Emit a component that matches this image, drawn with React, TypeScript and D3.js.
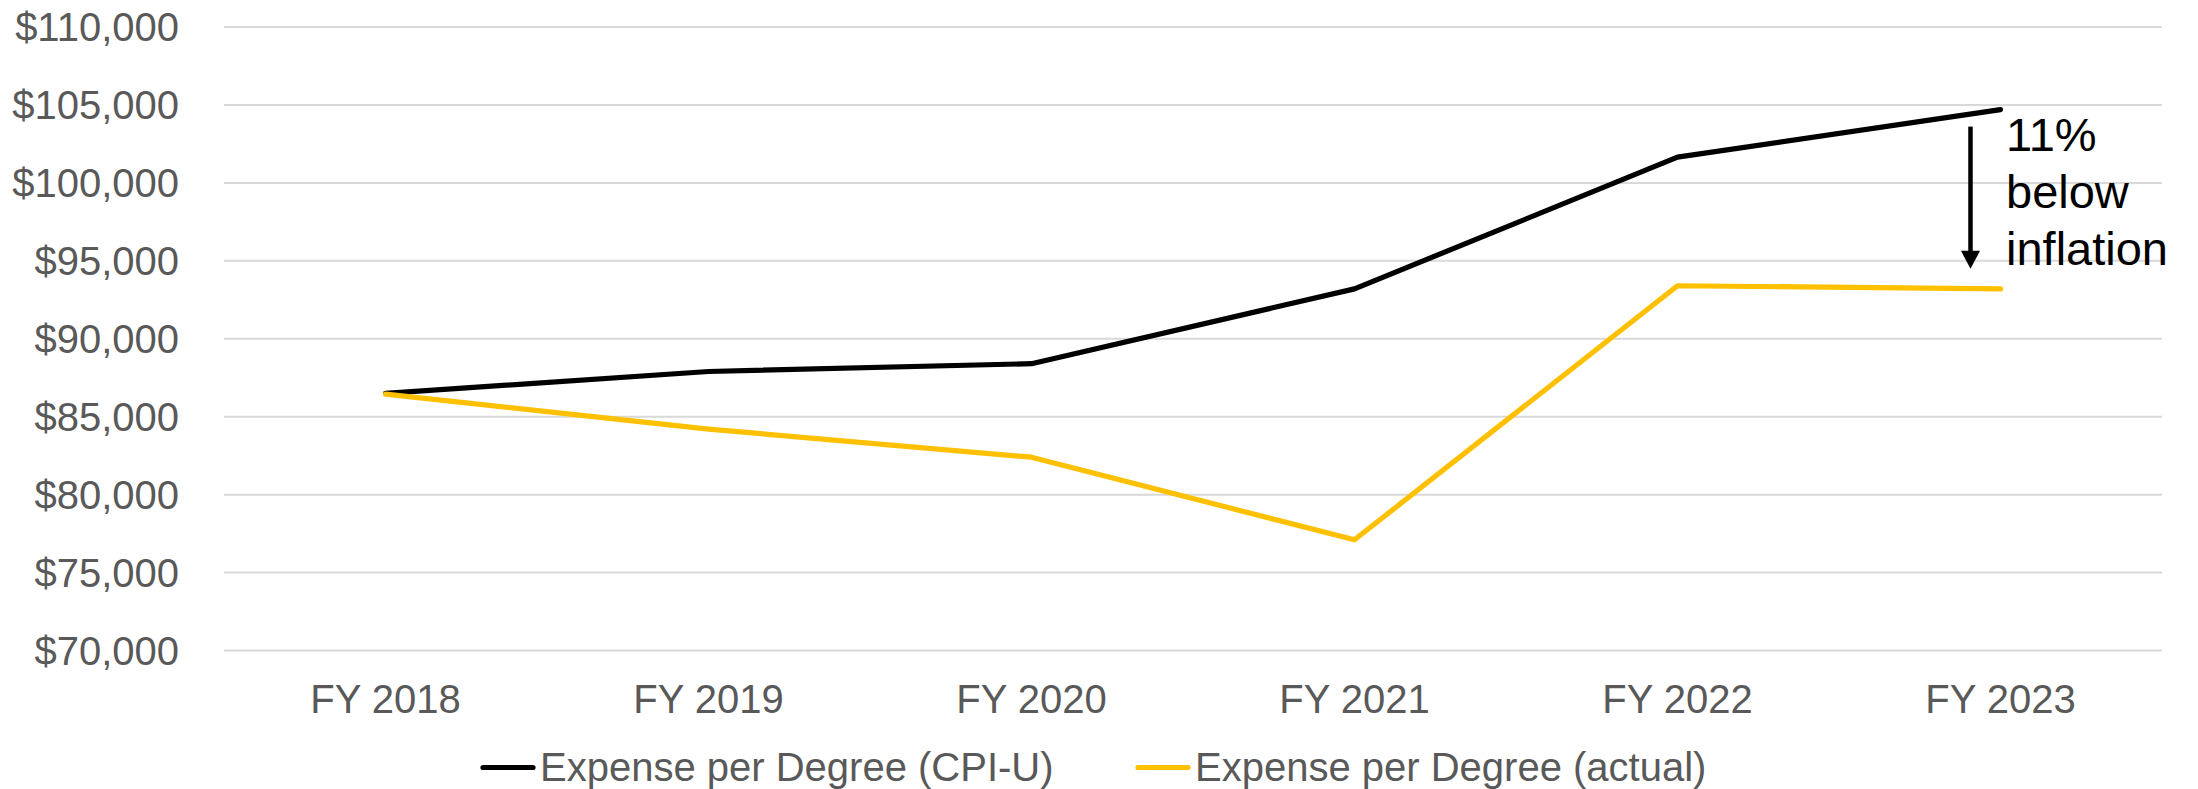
import * as d3 from "d3";

// ── Data ──────────────────────────────────────────────────
const categories = ["FY 2018", "FY 2019", "FY 2020", "FY 2021", "FY 2022", "FY 2023"];
const cpiValues = [86500, 87900, 88400, 93200, 101650, 104700];
const actualValues = [86450, 84200, 82400, 77100, 93400, 93200];
const yTicks = [70000, 75000, 80000, 85000, 90000, 95000, 100000, 105000, 110000];
const seriesNames = ["Expense per Degree (CPI-U)", "Expense per Degree (actual)"];
const annotationLines = ["11%", "below", "inflation"];

// ── Layout ────────────────────────────────────────────────
const W = 2198;
const H = 789;
const plot = { left: 224, right: 2162, top: 27, bottom: 650.5 };

const FONT = "Arial, 'Liberation Sans', sans-serif";
const GREY = "#595959";
const COLORS = ["#000000", "#FFC000"];

const x = d3.scalePoint<string>()
  .domain(categories)
  .range([plot.left, plot.right])
  .padding(0.5);

const y = d3.scaleLinear()
  .domain([70000, 110000])
  .range([plot.bottom, plot.top]);

const line = d3.line<number>()
  .x((_, i) => x(categories[i]) as number)
  .y(d => y(d));

const fmt = (v: number) => "$" + d3.format(",")(v);

export default function App() {
  const series = [cpiValues, actualValues];
  const last = categories.length - 1;
  const arrowX = (x(categories[last]) as number) - 30;
  const arrowTop = y(cpiValues[last]) + 17;
  const arrowTip = y(actualValues[last]) - 20;

  // legend layout
  const legendY = 767.5;
  const legendItems = [
    { x0: 481, textX: 540 },
    { x0: 1136, textX: 1195 },
  ];

  return (
    <svg width={W} height={H} viewBox={`0 0 ${W} ${H}`}
      style={{ position: "absolute", left: 0, top: 0, background: "#fff" }}>
      <rect width={W} height={H} fill="#fff" />

      {/* gridlines + y labels */}
      {yTicks.map(t => (
        <g key={t}>
          <line x1={plot.left} x2={plot.right} y1={y(t)} y2={y(t)}
            stroke="#d9d9d9" strokeWidth={2} />
          <text x={179} y={y(t) + 14} textAnchor="end"
            fontFamily={FONT} fontSize={40} fill={GREY}>
            {fmt(t)}
          </text>
        </g>
      ))}

      {/* x labels */}
      {categories.map(c => (
        <text key={c} x={x(c)} y={712.5} textAnchor="middle"
          fontFamily={FONT} fontSize={40} fill={GREY}>
          {c}
        </text>
      ))}

      {/* series */}
      {series.map((s, i) => (
        <path key={i} d={line(s) || ""} fill="none"
          stroke={COLORS[i]} strokeWidth={5.2}
          strokeLinejoin="round" strokeLinecap="round" />
      ))}

      {/* arrow annotation */}
      <line x1={arrowX} x2={arrowX} y1={arrowTop} y2={arrowTip - 16}
        stroke="#000" strokeWidth={4.5} />
      <path d={`M${arrowX - 9.5},${arrowTip - 18} L${arrowX + 9.5},${arrowTip - 18} L${arrowX},${arrowTip} Z`}
        fill="#000" />
      <text fontFamily={FONT} fontSize={47} fill="#000">
        {annotationLines.map((l, i) => (
          <tspan key={l} x={2006} y={150.5 + i * 57.2}>{l}</tspan>
        ))}
      </text>

      {/* legend */}
      {legendItems.map((it, i) => (
        <g key={i}>
          <line x1={it.x0 + 2} x2={it.x0 + 52} y1={legendY} y2={legendY}
            stroke={COLORS[i]} strokeWidth={5.2} strokeLinecap="round" />
          <text x={it.textX} y={legendY + 13} fontFamily={FONT}
            fontSize={40} fill={GREY}>
            {seriesNames[i]}
          </text>
        </g>
      ))}
    </svg>
  );
}
